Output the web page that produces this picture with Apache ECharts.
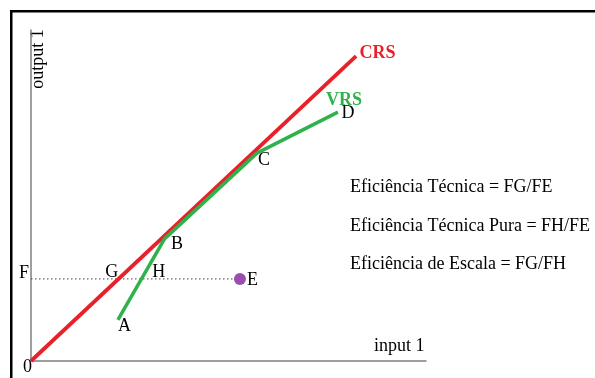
<!DOCTYPE html>
<html>
<head>
<meta charset="utf-8">
<script src="https://cdn.jsdelivr.net/npm/echarts@6/dist/echarts.min.js"></script>
<style>
html,body{margin:0;padding:0;background:#fff;}
#c{width:595px;height:378px;}
</style>
</head>
<body>
<div id="c"></div>
<script>
// CRS frontier (through origin)
const crsX = [0, 8.23];
const crsY = [0, 9.21];
// VRS frontier A-B-C-D
const vrsNames = ['A', 'B', 'C', 'D'];
const vrsX = [2.2, 3.38, 5.72, 7.77];
const vrsY = [1.24, 3.69, 6.28, 7.52];
// Inefficient DMU E and projection points
const pointNames = ['F', 'G', 'H', 'E', '0'];
const pointX = [0, 2.22, 2.79, 5.29, 0];
const pointY = [2.48, 2.48, 2.48, 2.48, 0];
// Axis names and text notes
const xAxisName = 'input 1';
const yAxisName = 'output 1';
const notes = [
  'Eficiência Técnica = FG/FE',
  'Eficiência Técnica Pura = FH/FE',
  'Eficiência de Escala = FG/FH'
];

const FONT = '"Liberation Serif", "DejaVu Serif", serif';
const labelOffsets = {
  A: [6.5, 6], B: [12.5, 5], C: [7, 7], D: [10, 1],
  E: [12.5, 1], F: [-7, -6], G: [-7, -7], H: [17.5, -7], '0': [-3.5, 6.5]
};

const chart = echarts.init(document.getElementById('c'), null, {renderer: 'canvas'});

const labelData = [];
vrsNames.forEach((n, i) => labelData.push({name: n, value: [vrsX[i], vrsY[i]]}));
pointNames.forEach((n, i) => labelData.push({name: n, value: [pointX[i], pointY[i]]}));

const eIdx = pointNames.indexOf('E');
const fIdx = pointNames.indexOf('F');

chart.setOption({
  animation: false,
  backgroundColor: '#fff',
  grid: {left: 31, right: 169, top: 30, bottom: 17, containLabel: false},
  xAxis: {
    type: 'value', min: 0, max: 10,
    axisLine: {show: true, onZero: false, lineStyle: {color: '#7f7f7f', width: 1.5}},
    axisTick: {show: false}, axisLabel: {show: false}, splitLine: {show: false}
  },
  yAxis: {
    type: 'value', min: 0, max: 10,
    axisLine: {show: true, onZero: false, lineStyle: {color: '#7f7f7f', width: 1.5}},
    axisTick: {show: false}, axisLabel: {show: false}, splitLine: {show: false}
  },
  series: [
    {
      type: 'line',
      data: [[pointX[fIdx], pointY[fIdx]], [pointX[eIdx], pointY[eIdx]]],
      symbol: 'none',
      lineStyle: {color: '#444', width: 1, type: [1.5, 2.5]},
      z: 1
    },
    {
      type: 'line',
      data: crsX.map((x, i) => {
        const d = {value: [x, crsY[i]]};
        if (i === crsX.length - 1) {
          d.label = {show: true, formatter: 'CRS', position: 'inside', offset: [21.5, -3],
            color: '#e8202a', fontFamily: FONT, fontSize: 18, fontWeight: 'bold'};
        }
        return d;
      }),
      symbol: 'circle', symbolSize: 0, showSymbol: true,
      lineStyle: {color: '#e8202a', width: 3.8},
      z: 2
    },
    {
      type: 'line',
      data: vrsX.map((x, i) => [x, vrsY[i]]),
      symbol: 'none',
      lineStyle: {color: '#2fb24c', width: 3.5},
      z: 3
    },
    {
      type: 'scatter',
      data: [{value: [vrsX[3], vrsY[3]], label: {show: true, formatter: 'VRS', position: 'inside', offset: [6, -11.5],
        color: '#2fb24c', fontFamily: FONT, fontSize: 18, fontWeight: 'bold'}}],
      symbolSize: 0, itemStyle: {opacity: 1}, z: 4
    },
    {
      type: 'scatter',
      data: [[pointX[eIdx], pointY[eIdx]]],
      symbol: 'circle', symbolSize: 12,
      itemStyle: {color: '#9a4fb0', opacity: 1},
      z: 5
    },
    {
      type: 'scatter',
      data: labelData.map(d => ({
        name: d.name, value: d.value,
        label: {show: true, formatter: d.name, position: 'inside', offset: labelOffsets[d.name],
          color: '#000', fontFamily: FONT, fontSize: 18}
      })),
      symbolSize: 0, itemStyle: {opacity: 1}, z: 6
    }
  ],
  graphic: [
    {type: 'rect', shape: {x: 10, y: 10, width: 2.5, height: 368}, style: {fill: '#000'}},
    {type: 'rect', shape: {x: 10, y: 10, width: 585, height: 2.5}, style: {fill: '#000'}},
    {type: 'text', x: 374, y: 346, style: {text: xAxisName, font: '18px ' + FONT, fill: '#000', align: 'left', verticalAlign: 'middle'}},
    {type: 'text', x: 38.5, y: 59, rotation: Math.PI / 2,
      style: {text: yAxisName, font: '18px ' + FONT, fill: '#000', align: 'center', verticalAlign: 'middle'}},
    {type: 'text', x: 350, y: 187, style: {text: notes[0], font: '18px ' + FONT, fill: '#000', align: 'left', verticalAlign: 'middle'}},
    {type: 'text', x: 350, y: 226, style: {text: notes[1], font: '18px ' + FONT, fill: '#000', align: 'left', verticalAlign: 'middle'}},
    {type: 'text', x: 350, y: 264, style: {text: notes[2], font: '18px ' + FONT, fill: '#000', align: 'left', verticalAlign: 'middle'}}
  ]
});
</script>
</body>
</html>
